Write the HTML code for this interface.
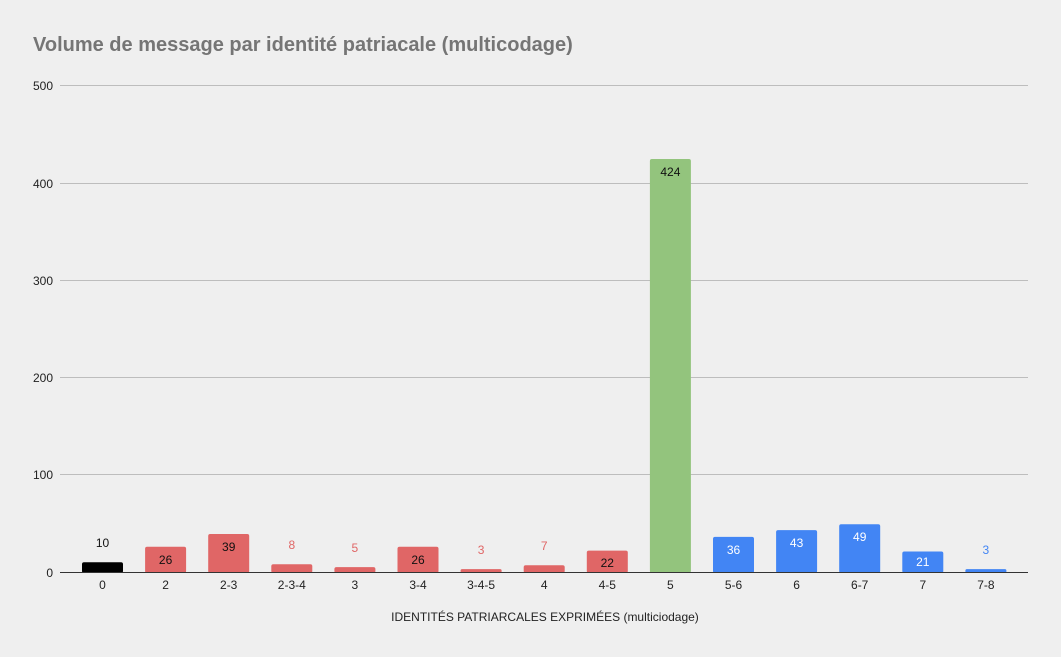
<!DOCTYPE html>
<html><head><meta charset="utf-8"><style>
html,body{margin:0;padding:0;background:#efefef;}
svg{display:block;font-family:"Liberation Sans",Arial,sans-serif;}
</style></head><body>
<svg width="1061" height="657" viewBox="0 0 1061 657" xmlns="http://www.w3.org/2000/svg">
<rect width="1061" height="657" fill="#efefef"/>
<text x="33" y="51" font-size="20" font-weight="bold" fill="#757575">Volume de message par identité patriacale (multicodage)</text>
<g stroke="#bdbdbd" stroke-width="1">
<line x1="60" y1="85.5" x2="1028" y2="85.5"/>
<line x1="60" y1="183.5" x2="1028" y2="183.5"/>
<line x1="60" y1="280.5" x2="1028" y2="280.5"/>
<line x1="60" y1="377.5" x2="1028" y2="377.5"/>
<line x1="60" y1="474.5" x2="1028" y2="474.5"/>
</g>
<g font-size="12" fill="#222" text-anchor="end">
<text x="53" y="90">500</text><text x="53" y="188">400</text><text x="53" y="285">300</text>
<text x="53" y="382">200</text><text x="53" y="479">100</text><text x="53" y="577">0</text>
</g>
<g>
<rect x="82" y="562.3" width="41" height="10.7" rx="2" fill="#000"/>
<rect x="145.1" y="546.7" width="41" height="26.3" rx="2" fill="#e06666"/>
<rect x="208.2" y="534" width="41" height="39" rx="2" fill="#e06666"/>
<rect x="271.3" y="564.2" width="41" height="8.8" rx="2" fill="#e06666"/>
<rect x="334.4" y="567.1" width="41" height="5.9" rx="2" fill="#e06666"/>
<rect x="397.5" y="546.7" width="41" height="26.3" rx="2" fill="#e06666"/>
<rect x="460.6" y="569.1" width="41" height="3.9" rx="1.5" fill="#e06666"/>
<rect x="523.7" y="565.2" width="41" height="7.8" rx="2" fill="#e06666"/>
<rect x="586.8" y="550.6" width="41" height="22.4" rx="2" fill="#e06666"/>
<rect x="649.9" y="159" width="41" height="414" rx="2" fill="#93c47d"/>
<rect x="713" y="536.9" width="41" height="36.1" rx="2" fill="#4285f4"/>
<rect x="776.1" y="530.1" width="41" height="42.9" rx="2" fill="#4285f4"/>
<rect x="839.2" y="524.3" width="41" height="48.7" rx="2" fill="#4285f4"/>
<rect x="902.3" y="551.5" width="41" height="21.5" rx="2" fill="#4285f4"/>
<rect x="965.4" y="569.1" width="41" height="3.9" rx="1.5" fill="#4285f4"/>
</g>
<line x1="60" y1="572.5" x2="1028" y2="572.5" stroke="#333" stroke-width="1"/>
<g font-size="12" fill="#222" text-anchor="middle">
<text x="102.5" y="589">0</text><text x="165.6" y="589">2</text><text x="228.7" y="589">2-3</text>
<text x="291.8" y="589">2-3-4</text><text x="354.9" y="589">3</text><text x="418" y="589">3-4</text>
<text x="481.1" y="589">3-4-5</text><text x="544.2" y="589">4</text><text x="607.3" y="589">4-5</text>
<text x="670.4" y="589">5</text><text x="733.5" y="589">5-6</text><text x="796.6" y="589">6</text>
<text x="859.7" y="589">6-7</text><text x="922.8" y="589">7</text><text x="985.9" y="589">7-8</text>
</g>
<g font-size="12" text-anchor="middle">
<text x="102.5" y="547" fill="#111">10</text>
<text x="165.6" y="564" fill="#111">26</text>
<text x="228.7" y="551" fill="#111">39</text>
<text x="291.8" y="549" fill="#e06666">8</text>
<text x="354.9" y="552" fill="#e06666">5</text>
<text x="418" y="564" fill="#111">26</text>
<text x="481.1" y="554" fill="#e06666">3</text>
<text x="544.2" y="550" fill="#e06666">7</text>
<text x="607.3" y="567" fill="#111">22</text>
<text x="670.4" y="176" fill="#111">424</text>
<text x="733.5" y="554" fill="#fff">36</text>
<text x="796.6" y="547" fill="#fff">43</text>
<text x="859.7" y="541" fill="#fff">49</text>
<text x="922.8" y="566" fill="#fff">21</text>
<text x="985.9" y="554" fill="#4285f4">3</text>
</g>
<text x="545" y="621" font-size="12" fill="#222" text-anchor="middle">IDENTITÉS PATRIARCALES EXPRIMÉES (multiciodage)</text>
</svg>
</body></html>
